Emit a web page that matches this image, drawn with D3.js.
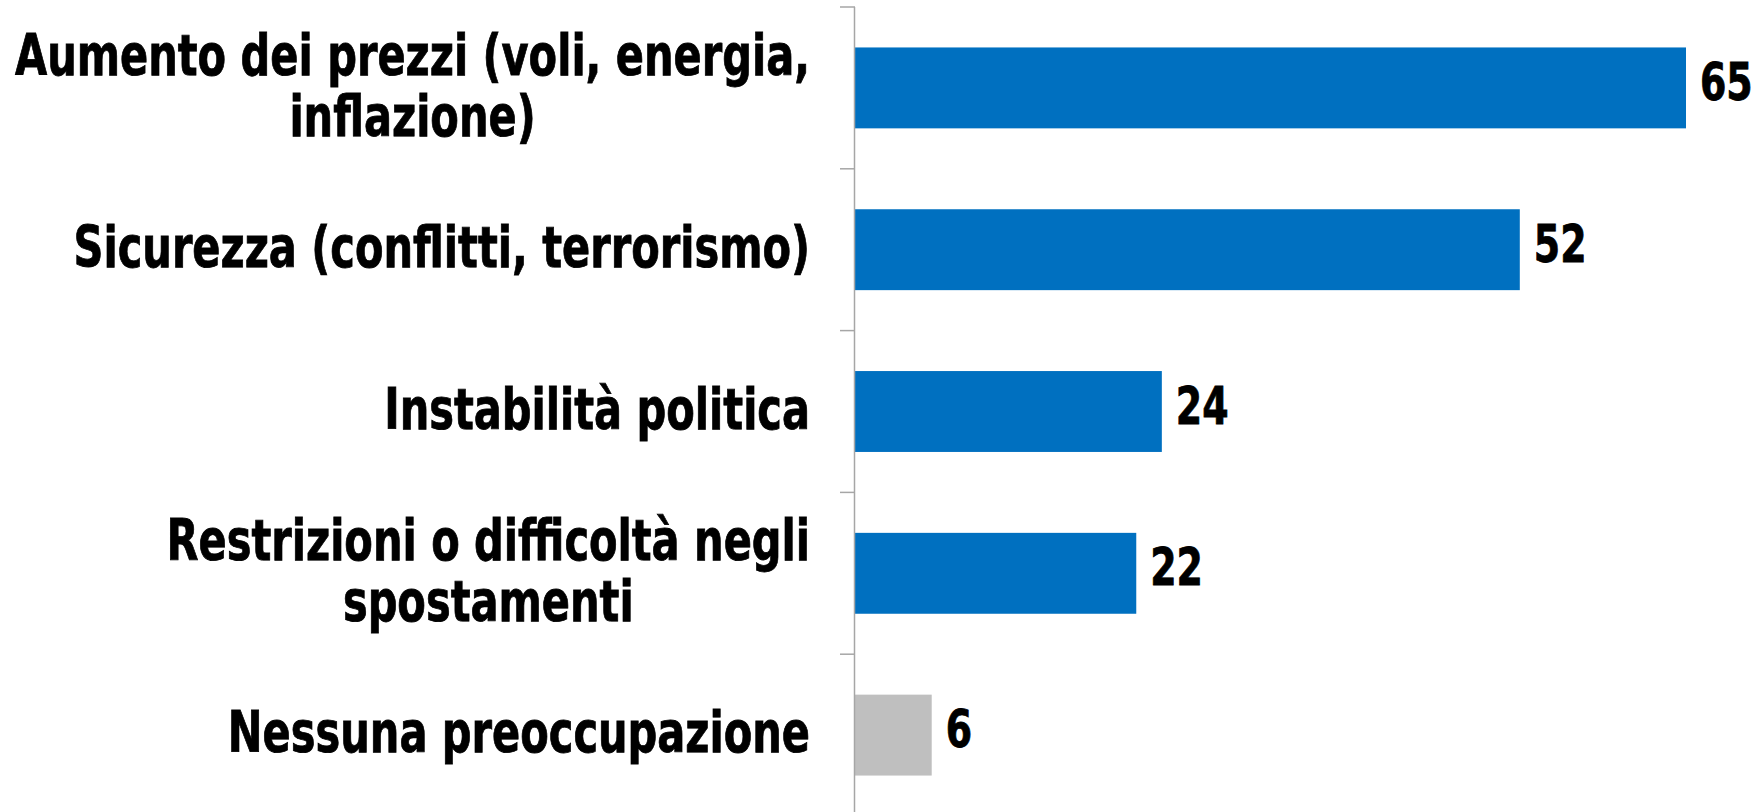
<!DOCTYPE html>
<html lang="it">
<head>
<meta charset="utf-8">
<title>preoccupazioni</title>
<script src="https://d3js.org/d3.v7.min.js"></script>
<style>
  body { margin: 0; background: #fff; }
  text { font-family: "Liberation Sans Narrow", "DejaVu Sans Condensed", sans-serif; font-weight: bold; fill: #000; stroke: #000; stroke-width: 0.8px; }
</style>
</head>
<body>
<svg id="chart" width="1759" height="812"></svg>
<script>
// data
const categories = [
  "Aumento dei prezzi (voli, energia,\ninflazione)",
  "Sicurezza (conflitti, terrorismo)",
  "Instabilità politica",
  "Restrizioni o difficoltà negli\nspostamenti",
  "Nessuna preoccupazione"
];
const values = [65, 52, 24, 22, 6];
const barColors = ["#0070C0", "#0070C0", "#0070C0", "#0070C0", "#BFBFBF"];

const W = 1759, H = 812;
const axisX = 855;
const squeeze = 0.81; // the original face is narrower than what we have installed

const svg = d3.select("#chart");

const y = d3.scaleBand()
  .domain(categories)
  .range([7, 816])
  .paddingInner(0.5)
  .paddingOuter(0.25);

const x = d3.scaleLinear()
  .domain([0, 65])
  .range([axisX, 1686]);

// helper: text squeezed horizontally, placed at (px, py)
function label(parent, px, py, str, size, anchor) {
  return parent.append("g")
    .attr("transform", `translate(${px},${py}) scale(${squeeze},1)`)
    .append("text")
    .attr("text-anchor", anchor)
    .style("font-size", size + "px")
    .text(str);
}

// bars
svg.selectAll("rect.bar")
  .data(values)
  .enter()
  .append("rect")
  .attr("class", "bar")
  .attr("x", x(0))
  .attr("y", (d, i) => y(categories[i]))
  .attr("width", d => x(d) - x(0))
  .attr("height", y.bandwidth())
  .attr("fill", (d, i) => barColors[i]);

// value labels
values.forEach((v, i) => {
  label(svg, x(v) + 14, y(categories[i]) + y.bandwidth() / 2 + 12, v, 52, "start");
});

// axis: vertical line + ticks at band boundaries
const axis = svg.append("g").attr("class", "axis");
axis.append("line")
  .attr("x1", axisX - 0.5).attr("x2", axisX - 0.5)
  .attr("y1", y.range()[0]).attr("y2", H)
  .attr("stroke", "#A6A6A6").attr("stroke-width", 1.5);
const step = y.step();
axis.selectAll("line.tick")
  .data(d3.range(categories.length + 1))
  .enter()
  .append("line")
  .attr("class", "tick")
  .attr("x1", axisX - 15).attr("x2", axisX)
  .attr("y1", i => y.range()[0] + i * step)
  .attr("y2", i => y.range()[0] + i * step)
  .attr("stroke", "#A6A6A6").attr("stroke-width", 1.5);

// category labels (multi-line: block right-aligned, lines centred)
const labelRight = 810;
const lineH = 61;
categories.forEach((c, i) => {
  const lines = c.split("\n");
  const cy = y(c) + y.bandwidth() / 2;
  if (lines.length === 1) {
    label(svg, labelRight, cy + 17, lines[0], 57, "end");
  } else {
    const g = svg.append("g");
    const texts = lines.map((ln, j) => label(g, 0, cy - 13 + j * lineH, ln, 57, "middle"));
    const maxW = d3.max(texts, t => t.node().getComputedTextLength()) * squeeze;
    texts.forEach((t, j) => {
      d3.select(t.node().parentNode)
        .attr("transform", `translate(${labelRight - maxW / 2},${cy - 13 + j * lineH}) scale(${squeeze},1)`);
    });
  }
});
</script>
</body>
</html>
